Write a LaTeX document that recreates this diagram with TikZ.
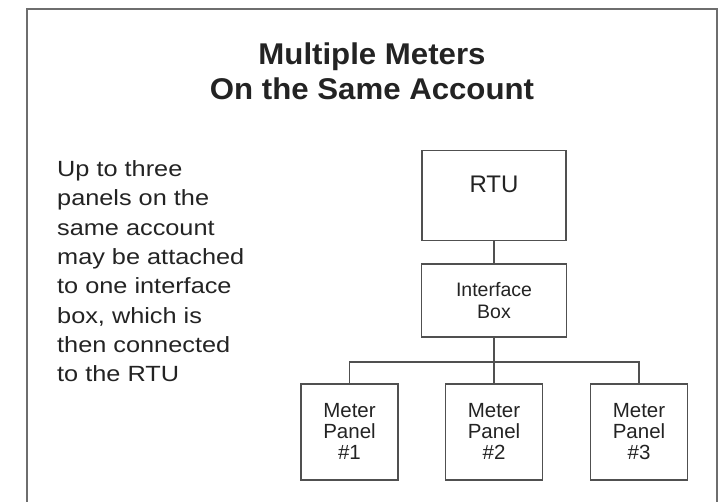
\documentclass[tikz,border=0pt]{standalone}
\usepackage{fontspec}
\setmainfont{Liberation Sans}
\newfontfamily\widesans{Liberation Sans}[FakeStretch=1.15]
\newfontfamily\titlesans{Liberation Sans}[FakeStretch=1.04]
\usetikzlibrary{positioning}
\definecolor{linegray}{RGB}{80,80,80}
\definecolor{framegray}{RGB}{110,110,110}
\definecolor{inkdark}{RGB}{35,35,35}
\tikzset{
  unitbox/.style={draw=linegray, line width=1.2pt, text=inkdark},
  wire/.style={draw=linegray, line width=1.2pt},
}

\begin{document}
\begin{tikzpicture}[x=1pt,y=-1pt]
    \useasboundingbox (0,0) rectangle (721,502);

    % Frame
    \draw[framegray, line width=2pt] (27,502) -- (27,9.5) -- (716.5,9.5) -- (716.5,502);

    % Title
    \node[font=\titlesans\bfseries\fontsize{30}{35}\selectfont, align=center,
          text=inkdark, anchor=base, inner sep=0pt] (title) at (372,100)
        {Multiple Meters\\On the Same Account};

    % Note
    \node[font=\widesans\fontsize{22}{29.3}\selectfont, align=left,
          text=inkdark, anchor=base west, inner sep=0pt] (note) at (57,381.7)
        {Up to three\\panels on the\\same account\\may be attached\\to one interface\\box, which is\\then connected\\to the RTU};

    % Boxes
    \node[unitbox, minimum width=144pt, minimum height=89.5pt] (rtu) at (494,195.5) {};
    \node[font=\fontsize{24}{28}\selectfont, text=inkdark] (rtutext) at (494,184) {RTU};
    \node[unitbox, minimum width=145pt, minimum height=73pt, align=center,
          font=\fontsize{19.5}{22.3}\selectfont] (iface) at (494,300.5) {Interface\\Box};
    \foreach \x/\n in {349.5/1, 494/2, 639/3}
        \node[unitbox, minimum width=97pt, minimum height=96pt, align=center,
              font=\fontsize{20.5}{21}\selectfont] (panel\n) at (\x,432)
            {\vphantom{Mt}Meter\\Panel\\\#\n\vphantom{\#3}};

    % Wiring
    \coordinate (bus) at (0,362);
    \draw[wire] (rtu.south) -- (iface.north);
    \draw[wire] (iface.south) -- (panel2.north);
    \draw[wire] (panel1.north) -- (panel1.north |- bus) -- (panel3.north |- bus) -- (panel3.north);
\end{tikzpicture}
\end{document}
